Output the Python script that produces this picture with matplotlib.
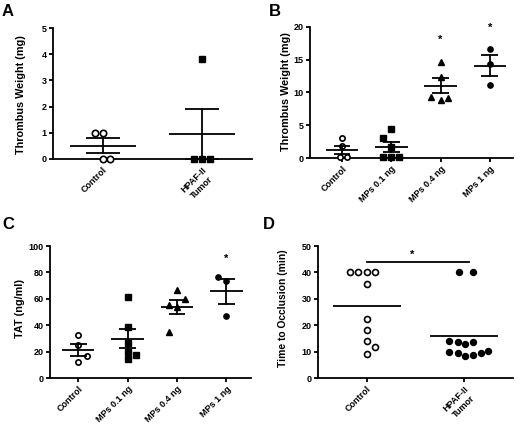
import matplotlib
matplotlib.use("Agg")
import matplotlib.pyplot as plt

plt.rcParams['font.family'] = ['Liberation Sans', 'DejaVu Sans']
plt.rcParams['font.weight'] = 'bold'

# ---- Panel A: thrombus weight, control vs tumor ----
a_cats = ["Control", "HPAF-II\nTumor"]
a_ctrl = [1.0, 1.0, 0.0, 0.0]
a_tum = [3.8, 0.0, 0.0, 0.0]
a_mean = [0.5, 0.95]
a_sem = [0.29, 0.95]

# ---- Panel B: thrombus weight, MP doses ----
b_cats = ["Control", "MPs 0.1 ng", "MPs 0.4 ng", "MPs 1 ng"]
b_ctrl = [3.0, 1.8, 0.1, 0.1]
b_mp01 = [4.5, 3.1, 1.7, 0.1, 0.1, 0.1]
b_mp04 = [14.7, 12.3, 9.36, 8.85, 9.1]
b_mp1 = [16.6, 14.3, 11.15]
b_mean = [1.22, 1.63, 11.0, 14.05]
b_sem = [0.66, 0.77, 1.15, 1.6]
b_star = [None, None, 18.0, 19.8]

# ---- Panel C: TAT ----
c_cats = ["Control", "MPs 0.1 ng", "MPs 0.4 ng", "MPs 1 ng"]
c_ctrl = [32.6, 25.0, 16.7, 11.9]
c_mp01 = [61.6, 38.9, 26.3, 19.9, 17.4, 14.1]
c_mp04 = [66.7, 59.6, 55.3, 54.0, 34.8]
c_mp1 = [76.5, 73.5, 47.0]
c_mean = [21.3, 29.7, 54.1, 65.7]
c_sem = [4.6, 7.3, 5.3, 9.3]
c_star = [None, None, None, 89.9]

# ---- Panel D: time to occlusion ----
d_cats = ["Control", "HPAF-II\nTumor"]
d_ctrl = [40.1, 40.1, 40.1, 40.1, 35.6, 22.2, 18.1, 14.2, 11.6, 9.1]
d_tum = [40.1, 40.1, 14.2, 13.5, 12.9, 13.8, 9.9, 9.5, 8.5, 8.9, 9.5, 10.1]
d_mean = [27.1, 15.9]
d_bracket = 44.0
d_star = 46.8

# horizontal spread of overlapping points (layout only)
a_dx = [[-0.077, 0.0, 0.0, 0.077], [0.0, -0.08, 0.0, 0.08]]
b_dx = [[0.0, 0.0, -0.04, 0.1],
        [0.0, -0.16, 0.0, -0.16, 0.0, 0.16],
        [0.0, 0.0, -0.2, 0.0, 0.16],
        [0.0, 0.0, 0.0]]
c_dx = [[0.0, 0.0, 0.17, 0.0],
        [0.0, 0.0, 0.0, 0.0, 0.17, 0.0],
        [0.0, 0.17, -0.17, 0.0, -0.17],
        [-0.17, 0.0, 0.0]]
d_dx = [[-0.17, -0.085, 0.0, 0.085, 0.0, 0.0, 0.0, 0.0, 0.085, 0.0],
        [-0.058, 0.085, -0.153, -0.068, 0.01, 0.092, -0.153, -0.068, 0.01, 0.092, 0.17, 0.248]]

LW = 1.3
TICK_FS = 6.5


def style_axes(ax, rect, cats, ylabel, yticks, ylim, xlim, lab_fs, lab_x, lab_y=0.5):
    ax.spines['top'].set_visible(False)
    ax.spines['right'].set_visible(False)
    ax.spines['left'].set_linewidth(LW)
    ax.spines['bottom'].set_linewidth(LW)
    ax.set_xlim(*xlim)
    ax.set_ylim(*ylim)
    ax.set_yticks(yticks)
    ax.set_xticks(range(len(cats)))
    ax.set_xticklabels(cats, rotation=45, ha='right', rotation_mode='anchor',
                       multialignment='center', fontsize=TICK_FS, fontweight='bold')
    ax.tick_params(axis='both', width=LW, length=3, labelsize=TICK_FS, pad=1.5)
    for t in ax.get_yticklabels():
        t.set_fontweight('bold')
    ax.set_ylabel(ylabel, fontsize=lab_fs, fontweight='bold')
    # label centre placed in pixels from the axis left edge
    ax.yaxis.set_label_coords((lab_x - rect[0]) / rect[2], lab_y)
    ax.yaxis.label.set_verticalalignment('center')


def points(ax, x, vals, dx, marker, filled, ms):
    xs = [x + d for d in dx]
    if filled:
        ax.plot(xs, vals, linestyle='none', marker=marker, ms=ms, color='black',
                mec='black', clip_on=False, zorder=3)
    else:
        ax.plot(xs, vals, linestyle='none', marker='o', ms=ms, mfc='white',
                mec='black', mew=1.2, clip_on=False, zorder=3)


def mean_sem(ax, x, m, s, lo_clip=None):
    lo = m - s
    hi = m + s
    if lo_clip is not None:
        lo = max(lo, lo_clip)
    ax.plot([x - 0.33, x + 0.33], [m, m], color='black', lw=LW, zorder=4,
            solid_capstyle='butt')
    ax.plot([x, x], [lo, hi], color='black', lw=LW, zorder=4, clip_on=False)
    for yy in (lo, hi):
        ax.plot([x - 0.17, x + 0.17], [yy, yy], color='black', lw=LW, zorder=4,
                clip_on=False, solid_capstyle='butt')


def add_axes_px(fig, left, top_px, right, bottom_px):
    # pixel box -> figure fraction; returns axes and the pixel rect
    W, H = 520.0, 433.0
    ax = fig.add_axes([left / W, 1 - bottom_px / H, (right - left) / W, (bottom_px - top_px) / H])
    return ax, (left, top_px, right - left)


fig = plt.figure(figsize=(5.2, 4.33), dpi=100)
marks = [('o', False), ('s', True), ('^', True), ('o', True)]

# Panel A
axA, rA = add_axes_px(fig, 53, 28, 252, 159)
points(axA, 0, a_ctrl, a_dx[0], 'o', False, 4.6)
points(axA, 1, a_tum, a_dx[1], 's', True, 4.2)
for i in range(2):
    mean_sem(axA, i, a_mean[i], a_sem[i], lo_clip=0)
style_axes(axA, rA, a_cats, "Thrombus Weight (mg)", [0, 1, 2, 3, 4, 5], (0, 5), (-0.5, 1.5),
           7.8, 21, 0.49)

# Panel B
axB, rB = add_axes_px(fig, 310, 27, 513, 158)
groups_b = [b_ctrl, b_mp01, b_mp04, b_mp1]
for i, g in enumerate(groups_b):
    points(axB, i, g, b_dx[i], marks[i][0], marks[i][1], 3.8)
    mean_sem(axB, i, b_mean[i], b_sem[i])
    if b_star[i] is not None:
        axB.text(i, b_star[i], '*', ha='center', va='center', fontsize=8)
style_axes(axB, rB, b_cats, "Thrombus Weight (mg)", [0, 5, 10, 15, 20], (0, 20), (-0.65, 3.47),
           7.8, 286, 0.51)

# Panel C
axC, rC = add_axes_px(fig, 50, 246, 251, 378)
groups_c = [c_ctrl, c_mp01, c_mp04, c_mp1]
for i, g in enumerate(groups_c):
    points(axC, i, g, c_dx[i], marks[i][0], marks[i][1], 3.8)
    mean_sem(axC, i, c_mean[i], c_sem[i])
    if c_star[i] is not None:
        axC.text(i, c_star[i], '*', ha='center', va='center', fontsize=8)
style_axes(axC, rC, c_cats, "TAT (ng/ml)", [0, 20, 40, 60, 80, 100], (0, 100), (-0.57, 3.5),
           7.8, 20, 0.53)

# Panel D
axD, rD = add_axes_px(fig, 318, 246, 513, 378)
points(axD, 0, d_ctrl, d_dx[0], 'o', False, 4.3)
points(axD, 1, d_tum, d_dx[1], 'o', True, 4.3)
for i in range(2):
    axD.plot([i - 0.35, i + 0.35], [d_mean[i], d_mean[i]], color='black', lw=LW,
             solid_capstyle='butt')
axD.plot([0, 1.05], [d_bracket, d_bracket], color='black', lw=LW)
axD.text(0.47, d_star, '*', ha='center', va='center', fontsize=8)
style_axes(axD, rD, d_cats, "Time to Occlusion (min)", [0, 10, 20, 30, 40, 50], (0, 50), (-0.5, 1.5),
           7.4, 283.5, 0.53)

# panel letters
for lbl, x, y in [('A', 2, 4), ('B', 269, 4), ('C', 2, 217), ('D', 263, 217)]:
    fig.text(x / 520, 1 - y / 433, lbl, fontsize=12, fontweight='bold', va='top', ha='left')

fig.savefig("out.png", dpi=100)
